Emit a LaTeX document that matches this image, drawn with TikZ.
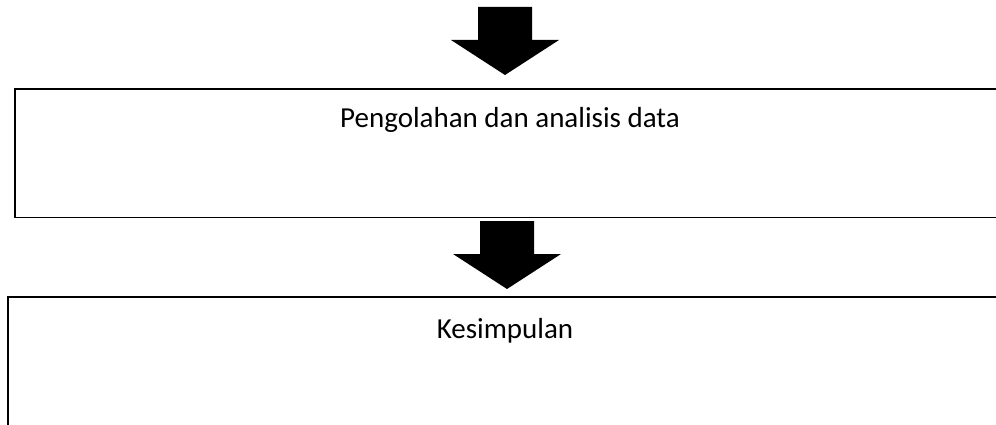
\documentclass[tikz,border=0pt]{standalone}
\usepackage{fontspec}
\setmainfont{Carlito}
\usetikzlibrary{positioning}

\tikzset{
  kotak/.style={anchor=north west, inner sep=0pt},
  garis/.style={draw=black, line width=1.5pt},
  teks/.style={font=\fontsize{29}{35}\selectfont, inner sep=0pt, anchor=base},
  panah/.pic={
    % panah blok ke bawah
    \fill[black] (-27,0) -- (27,0) -- (27,-33) -- (54,-33) -- (0,-68)
      -- (-54,-33) -- (-27,-33) -- cycle;
  }
}

\begin{document}
\begin{tikzpicture}[x=1pt, y=1pt]
    \useasboundingbox (0,0) rectangle (996,-425);

    % Panah pertama
    \pic at (505,-7) {panah};

    % Kotak pengolahan data (sisi kanan di luar halaman)
    \node[kotak, minimum width=981pt, minimum height=128pt] (olah) at (15,-89) {};
    \draw[garis] (olah.north east) -| (olah.south west) -- (olah.south east);
    \node[teks] (olahteks) at (510,-128) {Pengolahan dan analisis data};

    % Panah kedua
    \pic at (507,-221) {panah};

    % Kotak kesimpulan
    \node[kotak, minimum width=988pt, minimum height=128pt] (simpul) at (8,-297) {};
    \draw[garis] (simpul.north east) -| (simpul.south west);
    \node[teks] (simpulteks) at (505,-338) {Kesimpulan};
\end{tikzpicture}
\end{document}
